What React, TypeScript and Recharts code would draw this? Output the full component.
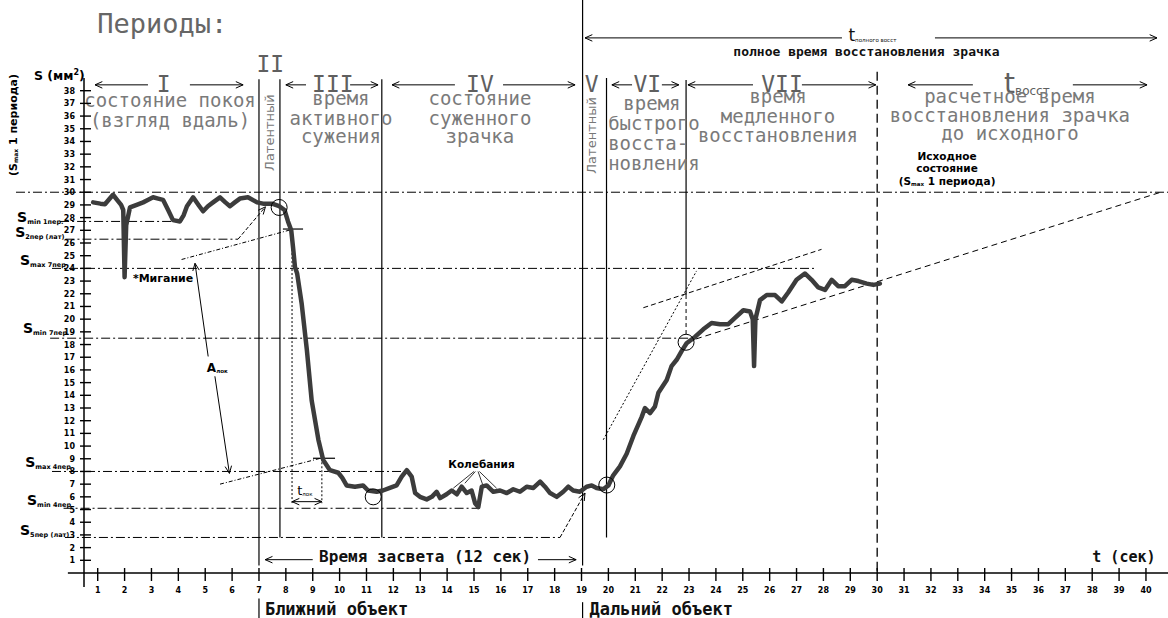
import React from 'react';
import { LineChart, Line, XAxis, YAxis, ReferenceLine, ReferenceDot } from 'recharts';

// ---- data ----
const curveTime = [
  0.83, 1.1, 1.27, 1.45, 1.57, 1.72, 1.87, 1.95, 2.0, 2.06, 2.2, 2.45, 2.69, 2.88, 3.06, 3.25, 3.43, 3.62, 3.8, 4.06,
  4.2, 4.32, 4.55, 4.75, 4.92, 5.1, 5.29, 5.55, 5.75, 5.92, 6.1, 6.29, 6.59, 6.93, 7.15, 7.49, 7.75, 7.95, 8.08, 8.2,
  8.27, 8.34, 8.42, 8.59, 8.78, 8.96, 9.21, 9.39, 9.64, 9.95, 10.1, 10.26, 10.57, 10.87, 11.06, 11.38, 11.61, 11.87,
  12.12, 12.31, 12.5, 12.68, 12.81, 12.99, 13.24, 13.43, 13.61, 13.74, 13.98, 14.17, 14.36, 14.54, 14.73, 14.91,
  15.04, 15.16, 15.29, 15.47, 15.72, 15.97, 16.22, 16.46, 16.71, 16.96, 17.21, 17.46, 17.64, 17.83, 18.08, 18.32,
  18.51, 18.69, 18.94, 19.19, 19.38, 19.56, 19.81, 20.0, 20.18, 20.43, 20.68, 20.93, 21.24, 21.36, 21.55, 21.73,
  21.86, 22.17, 22.35, 22.54, 22.73, 22.91, 23.22, 23.53, 23.84, 24.15, 24.46, 24.71, 25.02, 25.27, 25.37, 25.42,
  25.47, 25.64, 25.89, 26.2, 26.45, 26.69, 27.0, 27.31, 27.56, 27.81, 28.06, 28.31, 28.55, 28.8, 29.05, 29.3, 29.61,
  29.86, 30.1,
];
const curveArea = [
  29.2, 29.1, 29.05, 29.5, 29.8, 29.4, 29.0, 28.6, 23.3, 27.4, 28.8, 29.0, 29.2, 29.4, 29.6, 29.5, 29.4, 28.6, 27.8, 27.7,
  28.2, 28.9, 29.6, 29.0, 28.5, 28.9, 29.2, 29.6, 29.2, 28.9, 29.2, 29.5, 29.6, 29.2, 29.1, 29.1, 28.9, 28.6, 27.7, 27.0,
  25.6, 24.1, 23.6, 21.2, 17.6, 13.6, 10.5, 8.9, 8.1, 7.9, 7.5, 6.9, 6.8, 6.9, 6.5, 6.4, 6.5, 6.7,
  6.9, 7.6, 8.1, 7.6, 6.3, 6.0, 5.8, 6.0, 6.4, 5.9, 6.2, 6.5, 6.2, 6.8, 6.3, 6.5,
  5.5, 5.2, 6.8, 6.9, 6.4, 6.5, 6.3, 6.6, 6.4, 6.8, 6.7, 7.2, 6.8, 6.3, 6.0, 6.4,
  6.8, 6.5, 6.4, 6.8, 6.9, 6.7, 6.6, 6.9, 7.7, 8.4, 9.4, 10.8, 12.3, 13.0, 12.6, 13.1,
  14.2, 15.2, 16.3, 16.8, 17.5, 18.1, 18.6, 19.2, 19.7, 19.6, 19.6, 20.1, 20.7, 20.6, 20.0, 16.3,
  20.0, 21.5, 21.9, 21.9, 21.4, 22.1, 23.1, 23.6, 23.1, 22.5, 22.3, 23.1, 22.6, 22.6, 23.1, 23.0, 22.8,
  22.7, 22.8,
];
const timeTicks = [1, 2, 3, 4, 5, 6, 7, 8, 9, 10, 11, 12, 13, 14, 15, 16, 17, 18, 19, 20,
  21, 22, 23, 24, 25, 26, 27, 28, 29, 30, 31, 32, 33, 34, 35, 36, 37, 38, 39, 40];
const areaTicks = [1, 2, 3, 4, 5, 6, 7, 8, 9, 10, 11, 12, 13, 14, 15, 16, 17, 18, 19,
  20, 21, 22, 23, 24, 25, 26, 27, 28, 29, 30, 31, 32, 33, 34, 35, 36, 37, 38];
const baseLevel = 30;                 // S max 1 периода
const levelMin1 = 27.7;
const level2Lat = 26.3;
const levelMax7 = 24.0;
const levelMin7 = 18.5;
const levelMax4 = 8.0;
const levelMin4 = 5.1;
const level5Lat = 2.8;
const phaseBounds = [7.0, 7.78, 11.57, 19.04, 19.93, 22.89, 30.0];

const data = curveTime.map((t, i) => ({ t, s: curveArea[i] }));

const MONO = "'DejaVu Sans Mono', monospace";
const SANS = "'DejaVu Sans', sans-serif";
const GREY = '#7a7a7a';
const NUM = '#5f5f5f';
const DASHDOT = '9 3 2 3';

// ---- helpers ----
type Pt = [number, number];
interface SegOpts { dash?: string; w?: number; start?: boolean; end?: boolean; color?: string }

function head(xa: number, ya: number, xb: number, yb: number, color: string, w: number) {
  const ang = Math.atan2(ya - yb, xa - xb);
  const L = 8, a = 0.42;
  const p1x = xa - L * Math.cos(ang - a), p1y = ya - L * Math.sin(ang - a);
  const p2x = xa - L * Math.cos(ang + a), p2y = ya - L * Math.sin(ang + a);
  return <path d={`M${p1x},${p1y} L${xa},${ya} L${p2x},${p2y}`} fill="none" stroke={color} strokeWidth={w} />;
}

function seg(key: string, a: Pt, b: Pt, o: SegOpts = {}) {
  const color = o.color || '#000';
  const w = o.w || 1;
  return (
    <ReferenceLine
      key={key}
      segment={[{ x: a[0], y: a[1] }, { x: b[0], y: b[1] }]}
      ifOverflow="visible"
      stroke={color}
      shape={(p: any) => (
        <g>
          <line x1={p.x1} y1={p.y1} x2={p.x2} y2={p.y2} stroke={color} strokeWidth={w} strokeDasharray={o.dash} />
          {o.start ? head(p.x1, p.y1, p.x2, p.y2, color, w) : null}
          {o.end ? head(p.x2, p.y2, p.x1, p.y1, color, w) : null}
        </g>
      )}
    />
  );
}

function note(key: string, t: number, s: number, content: React.ReactNode, props: any = {}, rotate = 0) {
  return (
    <ReferenceDot
      key={key}
      x={t}
      y={s}
      r={0}
      ifOverflow="visible"
      shape={(p: any) => (
        <text
          x={p.cx}
          y={p.cy}
          transform={rotate ? `rotate(${rotate} ${p.cx} ${p.cy})` : undefined}
          {...props}
        >
          {content}
        </text>
      )}
    />
  );
}

function ring(key: string, t: number, s: number) {
  return <ReferenceDot key={key} x={t} y={s} r={8} fill="none" stroke="#000" strokeWidth={1} ifOverflow="visible" />;
}

const YTick = (p: any) => (
  <g>
    <line x1={p.x - 4} x2={p.x + 7} y1={p.y} y2={p.y} stroke="#000" strokeWidth={1.4} />
    <text x={p.x - 9} y={p.y + 3} textAnchor="end" fontSize={8} fontWeight="bold" fontFamily={SANS} fill="#000">
      {p.payload.value}
    </text>
  </g>
);
const XTick = (p: any) => (
  <g>
    <line x1={p.x} x2={p.x} y1={p.y - 5} y2={p.y + 8} stroke="#000" strokeWidth={1.4} />
    <text x={p.x} y={p.y + 20} textAnchor="middle" fontSize={8} fontWeight="bold" fontFamily={SANS} fill="#000">
      {p.payload.value}
    </text>
  </g>
);

const period = { fontFamily: MONO, fontSize: 23, fill: NUM, textAnchor: 'middle' };
const desc = { fontFamily: MONO, fontSize: 19, fill: GREY, textAnchor: 'middle' };
const descL = { fontFamily: MONO, fontSize: 19, fill: GREY, textAnchor: 'start' };
const latent = { fontFamily: SANS, fontSize: 13, fill: '#777', textAnchor: 'middle' };
const sLab = { fontFamily: SANS, fontSize: 14, fontWeight: 'bold', fill: '#000' };
const small = { fontFamily: SANS, fontSize: 10.5, fontWeight: 'bold', fill: '#000', textAnchor: 'middle' };
const boldMono = { fontFamily: MONO, fontWeight: 'bold', fill: '#111' };

const sub = (s: string) => <tspan fontSize={6.5} dy={2}>{s}</tspan>;

export default function App() {
  const [b7, b775, b11, b19, b20, b23, b30] = phaseBounds;
  return (
    <div style={{ position: 'absolute', left: 0, top: 0, width: 1168, height: 618, background: '#fff' }}>
      <LineChart width={1168} height={618} data={data} margin={{ top: 78, right: 0, bottom: 0, left: 0 }}>
        <XAxis
          dataKey="t"
          type="number"
          domain={[0.49, 40.82]}
          ticks={timeTicks}
          interval={0}
          height={45}
          tickSize={0}
          tickMargin={0}
          tickLine={false}
          tick={XTick}
          axisLine={{ stroke: '#000', strokeWidth: 1.5 }}
          allowDataOverflow
        />
        <YAxis
          type="number"
          domain={[0, 39]}
          ticks={areaTicks}
          interval={0}
          width={84}
          tickSize={0}
          tickMargin={0}
          tickLine={false}
          tick={YTick}
          axisLine={{ stroke: '#000', strokeWidth: 1.5 }}
          allowDataOverflow
        />

        {/* axis extensions */}
        {seg('xext', [-0.11, 0], [0.49, 0], { w: 1.5 })}
        {seg('yext', [0.49, 0], [0.49, -1.1], { w: 1.5 })}

        {/* horizontal level lines */}
        {seg('l30', [-2.04, baseLevel], [40.82, baseLevel], { dash: DASHDOT })}
        {seg('lmin1', [-0.4, levelMin1], [4.06, levelMin1], { dash: DASHDOT })}
        {seg('l2lat', [-0.2, level2Lat], [6.22, level2Lat], { dash: DASHDOT })}
        {seg('l2latA', [6.22, level2Lat], [7.24, 28.85], { dash: '4 2', end: true })}
        {seg('lmax7', [-0.7, levelMax7], [27.7, levelMax7], { dash: DASHDOT })}
        {seg('lmin7', [-0.77, levelMin7], [23.1, levelMin7], { dash: DASHDOT })}
        {seg('lmax4', [-0.7, levelMax4], [12.5, levelMax4], { dash: DASHDOT })}
        {seg('lmin4', [-0.27, levelMin4], [15.22, levelMin4], { dash: DASHDOT })}
        {seg('l5lat', [-0.22, level5Lat], [18.2, level5Lat], { dash: DASHDOT })}
        {seg('l5latA', [18.2, level5Lat], [19.13, 6.3], { dash: '4 2', end: true })}

        {/* phase boundaries */}
        {seg('v7a', [b7, 38.9], [b7, 0.6], { w: 1.2 })}
        {seg('v7b', [b7, -2.0], [b7, -3.6], { w: 1.2 })}
        {seg('v775', [b775, 38.9], [b775, level5Lat], { w: 1.2 })}
        {seg('v11', [b11, 38.9], [b11, level5Lat], { w: 1.2 })}
        {seg('v19a', [b19, 45.2], [b19, 0.6], { w: 1.2 })}
        {seg('v19b', [b19, -2.3], [b19, -3.6], { w: 1.2 })}
        {seg('v20', [b20, 39.0], [b20, level5Lat], { w: 1.2 })}
        {seg('v23a', [b23, 38.85], [b23, 21.9], { w: 1.2 })}
        {seg('v23b', [b23, 21.9], [b23, 18.6], { w: 1, dash: '4 3' })}
        {seg('v30', [b30, 39.5], [b30, 0], { w: 1.3, dash: '9 5' })}

        {/* tangents and auxiliary lines */}
        {seg('tanII', [4.12, 24.7], [8.28, 27.1], { dash: '4 2 1 2' })}
        {seg('markII', [7.89, 27.1], [8.64, 27.1], { w: 1.2 })}
        {seg('vlok1', [8.23, 27.1], [8.23, 5.5], { dash: '2 2' })}
        {seg('vlok2', [9.34, 9.04], [9.34, 5.5], { dash: '2 2' })}
        {seg('tlok', [8.23, 5.62], [9.34, 5.62], { start: true, end: true })}
        {seg('tanIV', [5.55, 7.0], [9.4, 9.1], { dash: '4 2 1 2' })}
        {seg('markIV', [9.01, 9.04], [9.83, 9.04], { w: 1.2 })}
        {seg('alok1', [5.11, 17.06], [4.62, 24.4], { end: true })}
        {seg('alok2', [5.36, 15.5], [5.9, 7.85], { end: true })}
        {seg('tanVI', [19.81, 10.5], [23.28, 23.8], { dash: '2 2' })}
        {seg('tanVIIa', [21.3, 20.9], [27.93, 25.5], { dash: '5 3' })}
        {seg('tanVIIb', [22.9, 18.2], [40.55, 30.0], { dash: '6 4' })}
        {seg('kol1', [15.0, 8.0], [14.23, 6.68], { w: 0.8 })}
        {seg('kol2', [15.05, 8.0], [14.66, 7.07], { w: 0.8 })}
        {seg('kol3', [15.15, 8.0], [15.35, 6.8], { w: 0.8 })}
        {seg('kol4', [15.2, 8.0], [15.84, 6.68], { w: 0.8 })}

        {/* top arrows */}
        {seg('tfullL', [19.13, 42.16], [28.69, 42.16], { start: true })}
        {seg('tfullR', [32.15, 42.16], [40.41, 42.16], { end: true })}
        {seg('pIl', [2.87, 38.46], [0.9, 38.46], { end: true })}
        {seg('pIr', [4.43, 38.46], [6.41, 38.46], { end: true })}
        {seg('pIIIl', [8.75, 38.46], [8.0, 38.46], { end: true })}
        {seg('pIIIr', [10.39, 38.46], [11.43, 38.46], { end: true })}
        {seg('pIVl', [14.29, 38.46], [11.95, 38.46], { end: true })}
        {seg('pIVr', [16.08, 38.46], [18.76, 38.46], { end: true })}
        {seg('pVIl', [20.88, 38.46], [20.13, 38.46], { end: true })}
        {seg('pVIr', [21.99, 38.46], [22.62, 38.46], { end: true })}
        {seg('pVIIl', [25.38, 38.46], [22.96, 38.46], { end: true })}
        {seg('pVIIr', [27.2, 38.46], [29.95, 38.46], { end: true })}
        {seg('pRl', [33.56, 38.46], [31.15, 38.46], { end: true })}
        {seg('pRr', [37.28, 38.46], [40.04, 38.46], { end: true })}

        {/* bottom arrows */}
        {seg('expL', [9.0, 1.05], [7.23, 1.05], { end: true })}
        {seg('expR', [17.38, 1.05], [18.8, 1.05], { end: true })}

        <Line
          type="linear"
          dataKey="s"
          stroke="#3c3c3c"
          strokeWidth={4.5}
          strokeLinejoin="round"
          strokeLinecap="round"
          dot={false}
          activeDot={false}
          isAnimationActive={false}
        />

        {ring('c1', 7.75, 28.8)}
        {ring('c2', 11.25, 6.0)}
        {ring('c3', 19.94, 6.93)}
        {ring('c4', 22.89, 18.18)}

        {/* titles and period labels */}
        {note('title', 0.98, 42.55, 'Периоды:', { fontFamily: MONO, fontSize: 27, fill: '#666' })}
        {note('tfull', 28.93, 41.92, <>t<tspan fontSize={5.5} dy={1}>полного восст</tspan></>, { fontFamily: SANS, fontSize: 17, fill: '#111' })}
        {note('tfullTxt', 29.6, 40.74, 'полное время восстановления зрачка', { ...boldMono, fontSize: 13, textAnchor: 'middle' })}
        {note('pI', 3.45, 37.9, 'I', period)}
        {note('pII', 7.42, 39.48, 'II', period)}
        {note('pIII', 9.75, 37.9, 'III', period)}
        {note('pIV', 15.22, 37.9, 'IV', period)}
        {note('pV', 19.38, 37.9, 'V', period)}
        {note('pVI', 21.45, 37.9, 'VI', period)}
        {note('pVII', 26.46, 37.9, 'VII', period)}
        {note('pR', 35.02, 37.85, <>t<tspan fontSize={12} dy={2}>восст</tspan></>, { fontFamily: SANS, fontSize: 28, fill: NUM, textAnchor: 'start', dx: -8 })}

        {/* descriptions */}
        {note('dI1', 3.69, 36.7, 'состояние покоя', desc)}
        {note('dI2', 3.69, 35.15, '(взгляд вдаль)', desc)}
        {note('dIII1', 10.05, 36.88, 'время', desc)}
        {note('dIII2', 10.05, 35.3, 'активного', desc)}
        {note('dIII3', 10.05, 33.88, 'сужения', desc)}
        {note('dIV1', 15.22, 36.88, 'состояние', desc)}
        {note('dIV2', 15.22, 35.3, 'суженного', desc)}
        {note('dIV3', 15.22, 33.88, 'зрачка', desc)}
        {note('dVI1', 21.62, 36.49, 'время', desc)}
        {note('dVI2', 19.99, 34.9, 'быстрого', descL)}
        {note('dVI3', 19.99, 33.33, 'восста-', descL)}
        {note('dVI4', 19.99, 31.76, 'новления', descL)}
        {note('dVII1', 26.31, 37.04, 'время', desc)}
        {note('dVII2', 26.31, 35.46, 'медленного', desc)}
        {note('dVII3', 26.31, 33.96, 'восстановления', desc)}
        {note('dR1', 34.94, 37.04, 'расчетное время', desc)}
        {note('dR2', 34.94, 35.54, 'восстановления зрачка', desc)}
        {note('dR3', 34.94, 34.12, 'до исходного', desc)}
        {note('lat1', 7.56, 34.7, 'Латентный', latent, -90)}
        {note('lat2', 19.54, 34.48, 'Латентный', latent, -90)}
        {note('ish1', 32.6, 32.55, 'Исходное', small)}
        {note('ish2', 32.6, 31.6, 'состояние', small)}
        {note('ish3', 32.6, 30.58, <>(S<tspan fontSize={5.5} dy={1}>max</tspan><tspan dy={-1}> 1 периода)</tspan></>, small)}

        {/* left labels */}
        {note('yl', -1.37, 38.85, <>S (мм<tspan fontSize={8} dy={-5}>2</tspan><tspan dy={5}>)</tspan></>, { ...sLab, fontSize: 12.5 })}
        {note('yrot', -2.0, 35.3, <>(S<tspan fontSize={6} dy={1}>max</tspan><tspan dy={-1}> 1 периода)</tspan></>, { fontFamily: SANS, fontSize: 11, fontWeight: 'bold', fill: '#000', textAnchor: 'middle' }, -90)}
        {note('sMin1', -2.0, 27.66, <>S{sub('min 1пер.')}</>, sLab)}
        {note('s2lat', -2.07, 26.5, <>S{sub('2пер (лат)')}</>, sLab)}
        {note('sMax7', -1.89, 24.27, <>S{sub('max 7пер')}</>, sLab)}
        {note('sMin7', -1.78, 18.9, <>S{sub('min 7пер')}</>, sLab)}
        {note('sMax4', -1.7, 8.35, <>S{sub('max 4пер')}</>, sLab)}
        {note('sMin4', -1.63, 5.36, <>S{sub('min 4пер')}</>, sLab)}
        {note('s5lat', -1.89, 3.0, <>S{sub('5пер (лат)')}</>, sLab)}

        {/* curve annotations */}
        {note('blink', 2.31, 22.93, '*Мигание', { fontFamily: SANS, fontSize: 11, fontWeight: 'bold', fill: '#000' })}
        {note('alok', 5.06, 15.86, <>A<tspan fontSize={5.5} dy={1}>лок</tspan></>, { fontFamily: SANS, fontSize: 12, fontWeight: 'bold', fill: '#000' })}
        {note('tlokL', 8.42, 6.15, <>t<tspan fontSize={5.5} dy={1}>лок</tspan></>, { fontFamily: SANS, fontSize: 13, fill: '#000' })}
        {note('kol', 15.28, 8.27, 'Колебания', { fontFamily: SANS, fontSize: 10.5, fontWeight: 'bold', fill: '#000', textAnchor: 'middle' })}

        {/* bottom labels */}
        {note('exp', 13.18, 0.87, 'Время засвета (12 сек)', { ...boldMono, fontSize: 16, textAnchor: 'middle' })}
        {note('tsec', 39.18, 0.87, 't (сек)', { ...boldMono, fontSize: 15, textAnchor: 'middle' })}
        {note('near', 7.22, -3.3, 'Ближний объект', { ...boldMono, fontSize: 17 })}
        {note('far', 19.3, -3.3, 'Дальний объект', { ...boldMono, fontSize: 17 })}
      </LineChart>
    </div>
  );
}
